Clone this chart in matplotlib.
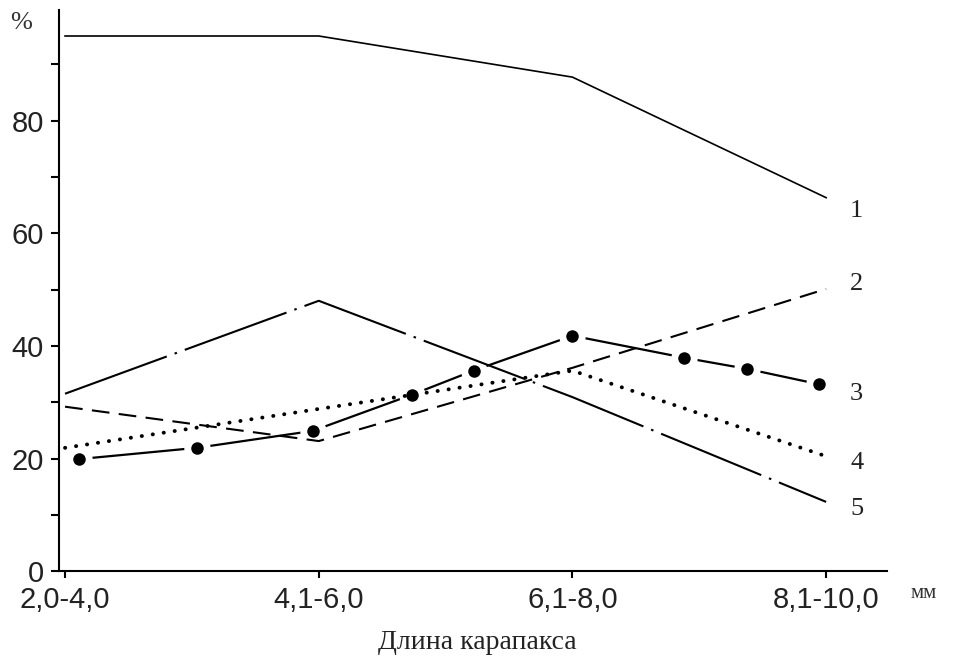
import matplotlib
matplotlib.use("Agg")
import matplotlib.pyplot as plt
from matplotlib.ticker import MultipleLocator

# Carapace length classes (mm)
size_classes = ["2,0-4,0", "4,1-6,0", "6,1-8,0", "8,1-10,0"]
class_pos = [0, 1, 2, 3]

# Share of individuals, %
series1 = [95.0, 95.0, 87.7, 66.3]
series2 = [29.2, 23.1, 36.1, 50.1]
series4 = [21.9, 28.8, 35.6, 20.4]
series5 = [31.5, 48.0, 30.9, 12.3]

# Series 3 is plotted at intermediate positions along the axis
series3_pos = [0.055, 0.52, 0.976, 1.366, 1.61, 2.0, 2.44, 2.69, 2.97]
series3 = [19.9, 21.9, 24.9, 31.3, 35.6, 41.8, 37.9, 35.9, 33.2]

curve_labels = ["1", "2", "3", "4", "5"]
label_y = [64.0, 51.0, 31.5, 19.2, 11.0]

fig = plt.figure(figsize=(9.54, 6.72), dpi=100)
ax = fig.add_axes([0.0618, 0.150, 0.868, 0.835])

lw = 1.5
ax.plot(class_pos, series1, color="black", lw=1.2, zorder=3)
ax.plot(class_pos, series2, color="black", lw=lw, linestyle=(0, (8.5, 4.5)), zorder=3)
ax.plot(class_pos, series4, color="black", lw=2.8, linestyle=(0, (0.05, 2.8)),
        dash_capstyle="round", zorder=3)
ax.plot(class_pos, series5, color="black", lw=lw, linestyle=(0, (52, 4, 1.2, 4)), zorder=3)

# series 3: solid segments broken around the round markers
ax.plot(series3_pos, series3, color="black", lw=1.6, zorder=2)
ax.plot(series3_pos, series3, linestyle="none", marker="o", markersize=19,
        markerfacecolor="white", markeredgewidth=0, zorder=2.5)
ax.plot(series3_pos, series3, linestyle="none", marker="o", markersize=9,
        markerfacecolor="black", markeredgewidth=0, zorder=4)

for txt, yv in zip(curve_labels, label_y):
    ax.text(3.12, yv, txt, fontsize=19, family="Liberation Serif",
            ha="center", va="center", color="#222222")

ax.set_xlim(-0.024, 3.24)
ax.set_ylim(0, 99.6)
ax.set_xticks(class_pos)
ax.set_xticklabels(size_classes)
ax.yaxis.set_major_locator(MultipleLocator(20))
ax.yaxis.set_minor_locator(MultipleLocator(10))
ax.set_yticks([0, 20, 40, 60, 80])

for side in ("top", "right"):
    ax.spines[side].set_visible(False)
for side in ("left", "bottom"):
    ax.spines[side].set_linewidth(1.5)

ax.tick_params(axis="x", which="major", length=5, width=1.5, pad=6,
               labelsize=21, labelfontfamily="Liberation Sans", direction="out",
               labelcolor="#222222")
ax.tick_params(axis="y", which="both", length=6, width=1.5, pad=5,
               labelsize=21, labelfontfamily="Liberation Sans", direction="out",
               labelcolor="#222222")

fig.text(0.5, 0.025, "Длина карапакса", fontsize=20, family="Liberation Serif",
         ha="center", va="bottom", color="#222222")
fig.text(0.968, 0.117, "мм", fontsize=15, family="Liberation Serif",
         ha="center", va="center", color="#333333")
fig.text(0.022, 0.966, "%", fontsize=19, family="Liberation Serif",
         ha="center", va="center", color="#333333")

fig.savefig("out.png", dpi=100)
